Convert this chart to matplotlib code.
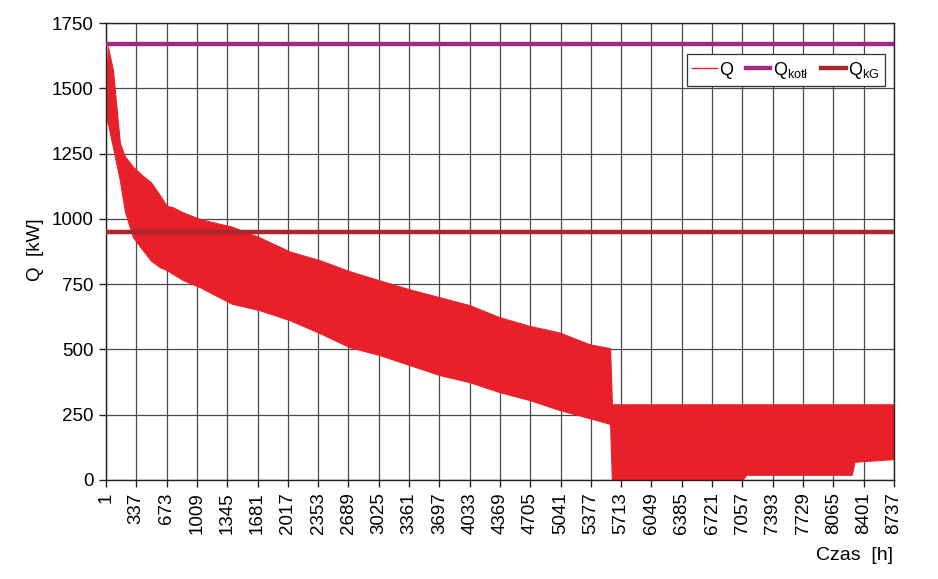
import numpy as np
import matplotlib
matplotlib.use("Agg")
import matplotlib.pyplot as plt
from matplotlib.lines import Line2D
from matplotlib import font_manager

# ---- data (envelope of the hourly Q series) ----
hours = [1, 22, 78, 155, 210, 300, 410, 500, 600, 675, 740, 853, 1041, 1229,
         1400, 1700, 2040, 2370, 2700, 3030, 3370, 3700, 4030, 4360, 4700,
         5030, 5360, 5590, 5610, 6000, 7057, 7100, 8270, 8300, 8737]
q_upper = [1500, 1660, 1570, 1290, 1240, 1200, 1165, 1140, 1090, 1050, 1045,
           1025, 1000, 984, 970, 930, 875, 842, 800, 765, 730, 700, 670, 624,
           590, 565, 520, 505, 290, 290, 290, 290, 290, 290, 290]
q_lower = [1380, 1366, 1275, 1148, 1030, 930, 880, 840, 815, 804, 790, 766,
           739, 705, 675, 651, 612, 563, 509, 479, 440, 402, 375, 337, 306,
           268, 237, 215, 0, 0, 0, 20, 20, 70, 80]

q_kotl = 1670   # boiler capacity
q_kg = 950      # Q_kG level

x_ticks = list(range(1, 8738, 336))
y_ticks = list(range(0, 1751, 250))

# ---- fonts ----
names = {f.name for f in font_manager.fontManager.ttflist}
fam = "Liberation Sans Narrow" if "Liberation Sans Narrow" in names else "Liberation Sans"
plt.rcParams["font.family"] = [fam, "DejaVu Sans"]
plt.rcParams["mathtext.fontset"] = "custom"
plt.rcParams["mathtext.rm"] = fam

red = "#e8202a"
purple = "#a12b84"
darkred = "#a8282f"
grid_c = "#4a4a4a"

fig = plt.figure(figsize=(9.38, 5.79), dpi=100)
ax = fig.add_axes([0.113, 0.171, 0.840, 0.789])

ax.fill_between(hours, q_lower, q_upper, color=red, linewidth=0.8, zorder=2)
ax.axhline(q_kotl, color=purple, linewidth=3.2, zorder=3)
ax.axhline(q_kg, color=darkred, linewidth=3.2, zorder=3)

ax.set_xlim(1, 8737)
ax.set_ylim(0, 1750)
ax.set_xticks(x_ticks)
ax.set_xticklabels([str(t) for t in x_ticks], rotation=90)
ax.set_yticks(y_ticks)
ax.tick_params(axis="both", labelsize=13.5, direction="out", length=5,
               width=1, color="#222222", pad=4)
ax.grid(True, color=grid_c, linewidth=0.9, zorder=1)
ax.set_axisbelow(True)
for s in ax.spines.values():
    s.set_color("#222222")
    s.set_linewidth(1.0)

fig.text(35 / 938, 1 - 250 / 579, "Q  [kW]", rotation=90, ha="center",
         va="center", fontsize=13.5)
fig.text(893 / 938, 1 - 555 / 579, "Czas  [h]", ha="right", va="center",
         fontsize=14)

handles = [Line2D([], [], color=red, linewidth=1.0),
           Line2D([], [], color=purple, linewidth=3.2),
           Line2D([], [], color=darkred, linewidth=3.2)]
labels = ["Q", r"Q$_{\mathregular{kotł}}$", r"Q$_{\mathregular{kG}}$"]
leg = ax.legend(handles, labels, loc="upper right", bbox_to_anchor=(0.989, 0.932),
                ncol=3, fontsize=13, frameon=True, fancybox=False,
                edgecolor="#333333", framealpha=1, handlelength=1.35,
                handletextpad=0.15, columnspacing=0.7, borderpad=0.3,
                borderaxespad=0)
leg.get_frame().set_linewidth(0.9)

fig.savefig("out.png", dpi=100)
